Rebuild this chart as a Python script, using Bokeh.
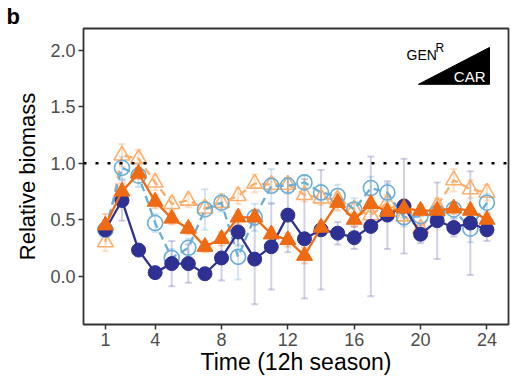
from bokeh.plotting import figure
from bokeh.models import ColumnDataSource, Whisker, FixedTicker, Label, Span, TeeHead
from bokeh.embed import file_html
from bokeh.resources import INLINE

# ---- data ----
time = list(range(1, 25))
x_ticks = [1, 4, 8, 12, 16, 20, 24]
y_ticks = [0.0, 0.5, 1.0, 1.5, 2.0]
y_tick_labels = ["0.0", "0.5", "1.0", "1.5", "2.0"]

circ_filled = [0.41, 0.67, 0.23, 0.03, 0.11, 0.11, 0.02, 0.16, 0.39, 0.15, 0.26, 0.54,
               0.33, 0.41, 0.38, 0.34, 0.44, 0.54, 0.62, 0.37, 0.49, 0.43, 0.47, 0.41]
circ_filled_err = [0.05, 0.18, 0.04, 0.04, 0.20, 0.17, 0.04, 0.20, 0.12, 0.40, 0.38, 0.33,
                   0.53, 0.53, 0.10, 0.10, 0.62, 0.30, 0.42, 0.08, 0.34, 0.08, 0.46, 0.10]

tri_filled = [0.45, 0.75, 0.91, 0.66, 0.51, 0.42, 0.26, 0.33, 0.52, 0.52, 0.37, 0.32,
              0.18, 0.43, 0.65, 0.50, 0.64, 0.57, 0.60, 0.58, 0.58, 0.60, 0.58, 0.50]
tri_filled_err = [0.10, 0.07, 0.05, 0.06, 0.05, 0.05, 0.05, 0.06, 0.06, 0.07, 0.06, 0.06,
                  0.07, 0.06, 0.07, 0.06, 0.07, 0.06, 0.08, 0.05, 0.06, 0.05, 0.06, 0.05]

circ_open = [0.41, 0.96, 0.89, 0.47, 0.16, 0.25, 0.59, 0.65, 0.17, 0.52, 0.80, 0.80,
             0.83, 0.74, 0.71, 0.59, 0.78, 0.74, 0.52, 0.53, 0.56, 0.59, 0.42, 0.65]
circ_open_err = [0.05, 0.10, 0.10, 0.08, 0.08, 0.08, 0.18, 0.08, 0.20, 0.12, 0.15, 0.07,
                 0.06, 0.07, 0.10, 0.10, 0.10, 0.08, 0.08, 0.07, 0.08, 0.07, 0.12, 0.08]

tri_open = [0.30, 1.07, 1.04, 0.83, 0.64, 0.67, 0.60, 0.65, 0.71, 0.82, 0.81, 0.81,
            0.72, 0.69, 0.68, 0.59, 0.54, 0.65, 0.53, 0.42, 0.62, 0.85, 0.77, 0.74]
tri_open_err = [0.08, 0.10, 0.08, 0.07, 0.06, 0.06, 0.06, 0.06, 0.07, 0.08, 0.06, 0.06,
                0.06, 0.06, 0.06, 0.06, 0.07, 0.07, 0.07, 0.06, 0.07, 0.10, 0.08, 0.07]

DARK = "#2E3192"
ORANGE = "#EF6A12"
LIGHTBLUE = "#6BAED6"
PEACH = "#FDAE6B"
FONT = "Liberation Sans"

X0, X1 = -0.32, 25.3
Y0, Y1 = -0.43, 2.195

p = figure(width=511, height=377, output_backend="svg", toolbar_location=None,
           x_range=(X0, X1), y_range=(Y0, Y1),
           min_border_left=83, min_border_right=3, min_border_top=28, min_border_bottom=52)
p.background_fill_color = "white"
p.border_fill_color = "white"
p.grid.visible = False
p.outline_line_color = "#333333"
p.outline_line_width = 1.8

# panel tag as the title
p.title.text = "b"
p.title.text_font = FONT
p.title.text_font_size = "22px"
p.title.text_font_style = "bold"
p.title.text_color = "black"
p.title.align = "left"
p.title.offset = -77
p.title.standoff = 0

for ax in (p.xaxis[0], p.yaxis[0]):
    ax.axis_line_color = None
    ax.major_tick_line_color = "#333333"
    ax.major_tick_line_width = 1.5
    ax.major_tick_out = 5
    ax.major_tick_in = 0
    ax.minor_tick_line_color = None
    ax.major_label_text_font = FONT
    ax.major_label_text_font_size = "18px"
    ax.major_label_text_color = "#4D4D4D"
    ax.axis_label_text_font = FONT
    ax.axis_label_text_font_size = "22px"
    ax.axis_label_text_font_style = "normal"
    ax.axis_label_text_color = "black"
    ax.major_label_standoff = 3

p.xaxis.ticker = FixedTicker(ticks=x_ticks)
p.yaxis.ticker = FixedTicker(ticks=y_ticks)
p.yaxis.major_label_overrides = {t: l for t, l in zip(y_ticks, y_tick_labels)}
p.xaxis.axis_label = "Time (12h season)"
p.xaxis.axis_label_text_font_size = "23px"
p.yaxis.axis_label = "Relative biomass"
p.xaxis.axis_label_standoff = 0
p.yaxis.axis_label_standoff = 7

p.add_layout(Span(location=1.0, dimension="width", line_color="black",
                  line_dash="3 9", line_width=2.5))


def add_series(vals, errs, color, err_alpha):
    src = ColumnDataSource(dict(
        x=time, y=vals,
        lo=[v - e for v, e in zip(vals, errs)],
        hi=[v + e for v, e in zip(vals, errs)]))
    w = Whisker(source=src, base="x", upper="hi", lower="lo",
                line_color=color, line_alpha=err_alpha, line_width=2,
                upper_head=TeeHead(size=7, line_color=color, line_alpha=err_alpha, line_width=2),
                lower_head=TeeHead(size=7, line_color=color, line_alpha=err_alpha, line_width=2))
    p.add_layout(w)
    return src


def draw(src, color, marker, filled, dash, size):
    p.line("x", "y", source=src, line_color=color, line_width=2.3, line_dash=dash)
    if filled:
        p.scatter("x", "y", source=src, marker=marker, size=size,
                  fill_color=color, line_color=color)
    else:
        p.scatter("x", "y", source=src, marker=marker, size=size,
                  fill_color=None, line_color=color, line_width=1.6)


s_tri_open = add_series(tri_open, tri_open_err, PEACH, 0.35)
s_circ_open = add_series(circ_open, circ_open_err, LIGHTBLUE, 0.3)
s_circ_filled = add_series(circ_filled, circ_filled_err, DARK, 0.22)
s_tri_filled = add_series(tri_filled, tri_filled_err, ORANGE, 0.3)

draw(s_tri_open, PEACH, "triangle", False, "8 5", 16)
draw(s_circ_open, LIGHTBLUE, "circle", False, "8 5", 15)
draw(s_circ_filled, DARK, "circle", True, "solid", 14)
draw(s_tri_filled, ORANGE, "triangle", True, "solid", 16)


# ---- GEN^R / CAR wedge key (positioned by canvas pixels) ----
def fx(px):
    return X0 + (px - 83) / 425 * (X1 - X0)


def fy(py):
    return Y1 - (py - 28) / 297 * (Y1 - Y0)


p.patch([fx(418), fx(489), fx(489)], [fy(84), fy(47), fy(84)],
        fill_color="black", line_color="black")
p.add_layout(Label(x=fx(406), y=fy(63), text="GEN", text_font=FONT,
                   text_font_size="14px", text_color="black"))
p.add_layout(Label(x=fx(435), y=fy(55), text="R", text_font=FONT,
                   text_font_size="12px", text_color="black"))
p.add_layout(Label(x=fx(485), y=fy(85), text="CAR", text_font=FONT,
                   text_font_size="15px", text_color="white", text_align="right"))

open("out.html", "w").write(file_html(p, INLINE))
